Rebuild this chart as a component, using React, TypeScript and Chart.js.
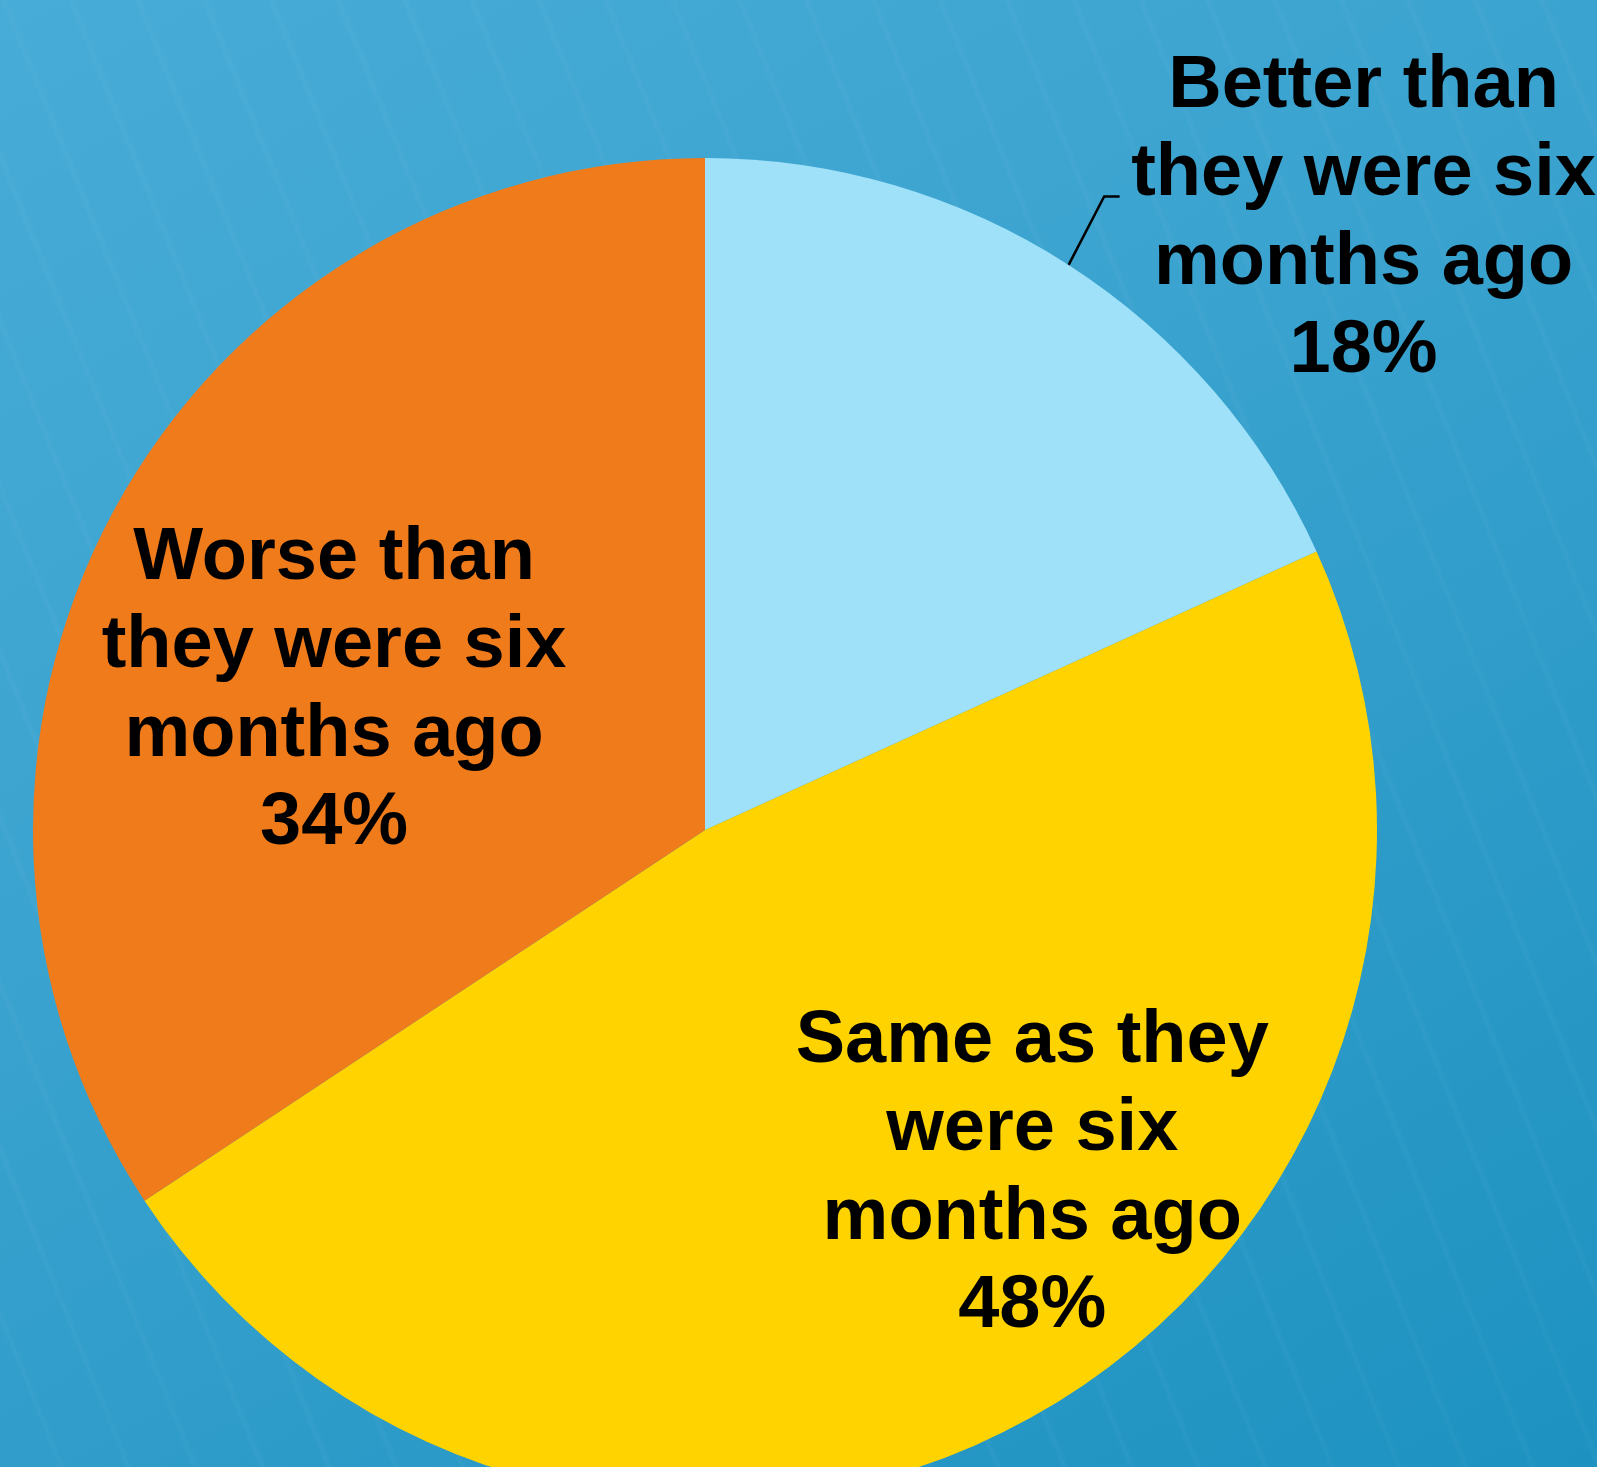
import React, { useEffect, useRef } from "react";
import { Chart, registerables } from "chart.js";

Chart.register(...registerables);

const categories = [
  "Better than they were six months ago",
  "Same as they were six months ago",
  "Worse than they were six months ago",
];
const values = [18.2, 47.5, 34.3];
const sliceColors = ["#A0E1FA", "#FFD300", "#F07B1B"];
const labelLines = [
  ["Better than", "they were six", "months ago"],
  ["Same as they", "were six", "months ago"],
  ["Worse than", "they were six", "months ago"],
];
// label anchor (center x, first baseline) relative to pie center, in units of radius
const labelOffsets = [
  [0.98, -1.076],
  [0.487, 0.345],
  [-0.552, -0.374],
];

const W = 1597;
const H = 1467;
const CANVAS_H = 1700;

const labelPlugin = {
  id: "sliceLabels",
  afterDraw(chart: any) {
    const ctx = chart.ctx;
    const meta = chart.getDatasetMeta(0);
    const total = values.reduce((a, b) => a + b, 0);
    ctx.save();
    ctx.fillStyle = "#000";
    ctx.font = "bold 74px 'Liberation Sans', Arial, sans-serif";
    ctx.textAlign = "center";
    ctx.textBaseline = "alphabetic";
    const lh = 88.5;
    meta.data.forEach((arc: any, i: number) => {
      const r = arc.outerRadius;
      const cx = arc.x + labelOffsets[i][0] * r;
      const by = arc.y + labelOffsets[i][1] * r;
      const pct = Math.round((values[i] / total) * 100) + "%";
      const lines = [...labelLines[i], pct];
      lines.forEach((ln, k) => ctx.fillText(ln, cx, by + k * lh));
    });
    // leader line for the first (outside) label
    const a0: any = meta.data[0];
    const mid = (a0.startAngle + a0.endAngle) / 2;
    const r0 = a0.outerRadius;
    const sx = a0.x + Math.cos(mid) * r0;
    const sy = a0.y + Math.sin(mid) * r0;
    const ex = a0.x + 0.594 * r0;
    const ey = a0.y + labelOffsets[0][1] * r0 + lh + 1;
    ctx.strokeStyle = "#000";
    ctx.lineWidth = 2.5;
    ctx.beginPath();
    ctx.moveTo(sx, sy);
    ctx.lineTo(ex, ey);
    ctx.lineTo(a0.x + 0.617 * r0, ey);
    ctx.stroke();
    ctx.restore();
  },
};

export default function App() {
  const ref = useRef<HTMLCanvasElement | null>(null);
  useEffect(() => {
    document.body.style.margin = "0";
    if (!ref.current) return;
    const chart = new Chart(ref.current, {
      type: "pie",
      data: {
        labels: categories,
        datasets: [
          {
            data: values,
            backgroundColor: sliceColors,
            borderWidth: 0,
          },
        ],
      },
      options: {
        responsive: false,
        animation: false,
        devicePixelRatio: 1,
        layout: { padding: { left: 33, right: 220, top: 158, bottom: 198 } },
        plugins: {
          legend: { display: false },
          tooltip: { enabled: false },
        },
      },
      plugins: [labelPlugin],
    });
    return () => chart.destroy();
  }, []);

  return (
    <div
      style={{
        position: "absolute",
        left: 0,
        top: 0,
        width: W,
        height: H,
        overflow: "hidden",
        background:
          "repeating-linear-gradient(68deg, rgba(255,255,255,0) 0px, rgba(255,255,255,0) 53px, rgba(255,255,255,0.03) 57px, rgba(255,255,255,0) 62px), linear-gradient(150deg, #47ACD7 0%, #3BA3CF 40%, #1D92C1 100%)",
      }}
    >
      <canvas
        ref={ref}
        width={W}
        height={CANVAS_H}
        style={{ display: "block", width: W, height: CANVAS_H }}
      />
    </div>
  );
}
